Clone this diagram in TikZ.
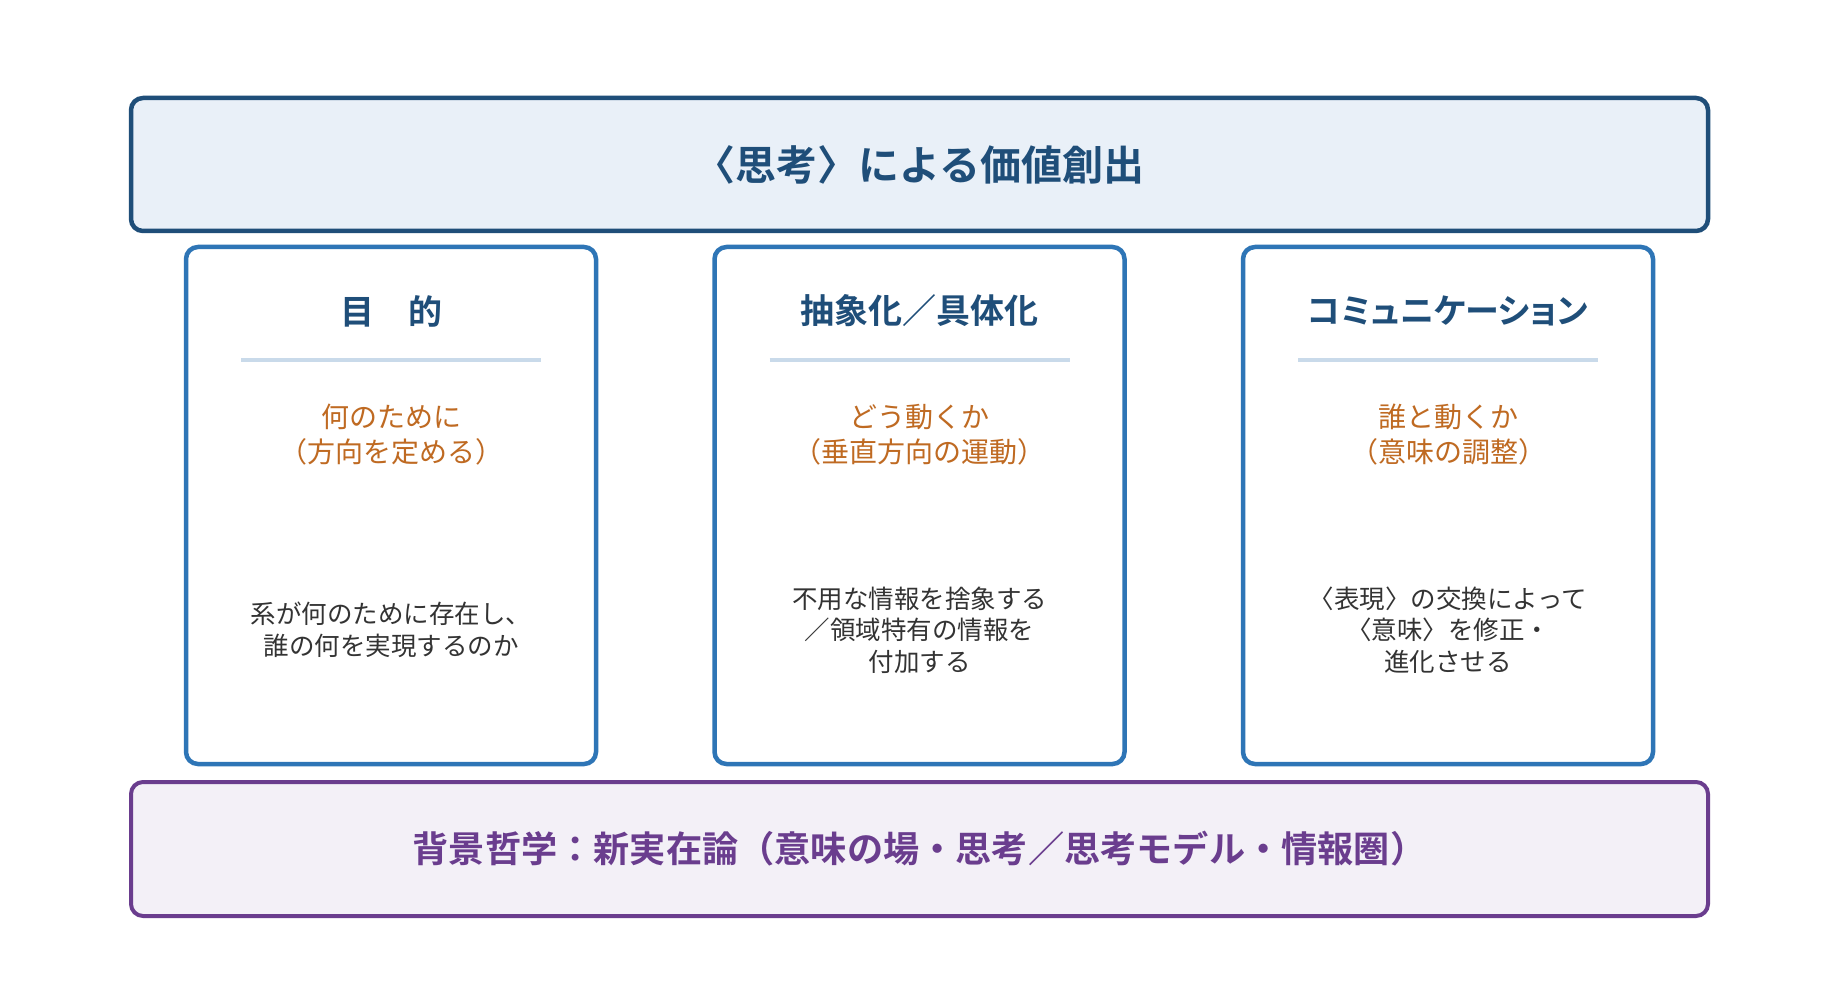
\documentclass[tikz,border=0pt]{standalone}
\usepackage{fontspec}
\setmainfont{Noto Sans CJK JP}[BoldFont={Noto Sans CJK JP Bold}]
\newfontfamily\jppalt{Noto Sans CJK JP Bold}[RawFeature=+palt]
\definecolor{topfill}{HTML}{E9F0F8}
\definecolor{topline}{HTML}{1F4E79}
\definecolor{cardline}{HTML}{2E75B6}
\definecolor{sepline}{HTML}{C9DAEA}
\definecolor{orangetxt}{HTML}{BF6A22}
\definecolor{bodytxt}{HTML}{333333}
\definecolor{botfill}{HTML}{F3F0F7}
\definecolor{botline}{HTML}{6A3D8E}
\tikzset{
  topbox/.style={draw=topline, fill=topfill, line width=4.5pt, rounded corners=12pt,
    minimum width=1577pt, minimum height=133pt, inner sep=0pt,
    font=\bfseries\fontsize{41}{48}\selectfont, text=topline},
  botbox/.style={draw=botline, fill=botfill, line width=4pt, rounded corners=12pt,
    minimum width=1577pt, minimum height=134pt, inner sep=0pt,
    font=\bfseries\fontsize{36.2}{43}\selectfont, text=botline},
  cardbox/.style={draw=cardline, fill=white, line width=4.5pt, rounded corners=12pt,
    minimum width=410pt, minimum height=517pt, inner sep=0pt},
  cardtitle/.style={font=\bfseries\fontsize{34}{40}\selectfont, text=topline, inner sep=0pt},
  sep/.style={draw=sepline, line width=3.5pt},
  subtxt/.style={font=\fontsize{28}{35}\selectfont, text=orangetxt, align=center, inner sep=0pt},
  bodyt/.style={font=\fontsize{25.5}{31.5}\selectfont, text=bodytxt, align=center, inner sep=0pt}
}
\begin{document}
\begin{tikzpicture}[x=1pt,y=-1pt]
\useasboundingbox (0,0) rectangle (1839,1000);
\fill[white] (0,0) rectangle (1839,1000);

\node[topbox] (top) at (919.5,164.5) {〈思考〉による価値創出};

\node[cardbox] (c1) at (391,505.5) {};
\node[cardbox] (c2) at (919.5,505.5) {};
\node[cardbox] (c3) at (1448,505.5) {};

\node[cardtitle] (t1) at (391,311) {目　的};
\node[cardtitle] (t2) at (919.5,311) {抽象化／具体化};
\node[cardtitle, font=\jppalt\fontsize{34}{40}\selectfont] (t3) at (1448,311) {コミュニケーション};

\coordinate (s1a) at (241,360); \coordinate (s1b) at (541,360);
\coordinate (s2a) at (769.5,360); \coordinate (s2b) at (1069.5,360);
\coordinate (s3a) at (1298,360); \coordinate (s3b) at (1598,360);
\draw[sep] (s1a) -- (s1b);
\draw[sep] (s2a) -- (s2b);
\draw[sep] (s3a) -- (s3b);

\node[subtxt] (o1) at (391,434.5) {何のために\\（方向を定める）};
\node[subtxt] (o2) at (919.5,434.5) {どう動くか\\（垂直方向の運動）};
\node[subtxt] (o3) at (1448,434.5) {誰と動くか\\（意味の調整）};

\node[bodyt] (b1) at (391,630) {系が何のために存在し、\\誰の何を実現するのか};
\node[bodyt] (b2) at (919.5,630) {不用な情報を捨象する\\／領域特有の情報を\\付加する};
\node[bodyt] (b3) at (1448,630) {〈表現〉の交換によって\\〈意味〉を修正・\\進化させる};

\node[botbox] (bot) at (919.5,849) {背景哲学：新実在論（意味の場・思考／思考モデル・情報圏）};
\end{tikzpicture}
\end{document}
